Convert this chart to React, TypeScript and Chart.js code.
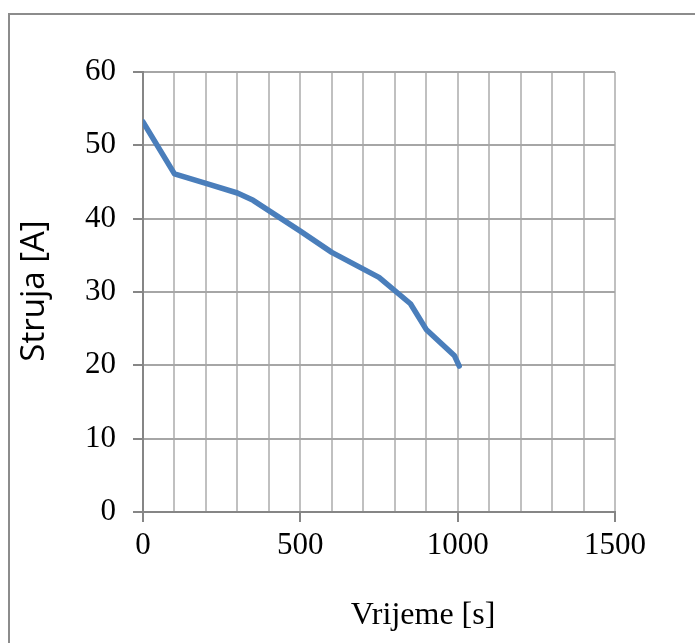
import React, { useEffect, useRef } from "react";
import { Chart, registerables } from "chart.js";

Chart.register(...registerables);

const timeSeconds = [0, 100, 200, 300, 350, 500, 600, 750, 850, 900, 990, 1005];
const currentAmps = [53.2, 46.1, 44.8, 43.5, 42.5, 38.3, 35.4, 32.0, 28.4, 24.9, 21.3, 19.9];
const xTickLabels = [0, 500, 1000, 1500];
const yTickLabels = [0, 10, 20, 30, 40, 50, 60];
const xTitle = "Vrijeme [s]";
const yTitle = "Struja [A]";

const axisTitlesPlugin = {
  id: "axisTitles",
  afterDraw(chart: any) {
    const { ctx, chartArea } = chart;
    ctx.save();
    ctx.fillStyle = "#000000";
    ctx.textAlign = "center";
    ctx.textBaseline = "middle";
    ctx.font = "32px 'Liberation Serif'";
    ctx.fillText(xTitle, (chartArea.left + chartArea.right) / 2 + 44, chartArea.bottom + 104);
    ctx.translate(chartArea.left - 108, (chartArea.top + chartArea.bottom) / 2 - 1);
    ctx.rotate(-Math.PI / 2);
    ctx.font = "33px 'Open Sans'";
    ctx.fillText(yTitle, 0, 0);
    ctx.restore();
  },
};

export default function App() {
  const canvasRef = useRef<HTMLCanvasElement | null>(null);

  useEffect(() => {
    if (!canvasRef.current) return;
    const chart = new Chart(canvasRef.current, {
      type: "line",
      data: {
        datasets: [
          {
            data: timeSeconds.map((t, i) => ({ x: t, y: currentAmps[i] })),
            borderColor: "#4a7ebb",
            backgroundColor: "#4a7ebb",
            borderWidth: 5.5,
            pointRadius: 0,
            borderCapStyle: "round",
            borderJoinStyle: "round",
            tension: 0,
            fill: false,
          },
        ],
      },
      options: {
        animation: false,
        responsive: false,
        maintainAspectRatio: false,
        layout: { padding: { top: 72, right: 80, bottom: 0, left: 0 } },
        plugins: {
          legend: { display: false },
          tooltip: { enabled: false },
          title: { display: false },
        },
        scales: {
          x: {
            type: "linear",
            min: 0,
            max: 1500,
            afterFit(scale: any) {
              scale.height = 131;
            },
            afterBuildTicks(scale: any) {
              const ticks = [];
              for (let v = 0; v <= 1500; v += 100) ticks.push({ value: v });
              scale.ticks = ticks;
            },
            ticks: {
              autoSkip: false,
              maxRotation: 0,
              padding: 5,
              color: "#000000",
              font: { family: "'Liberation Serif'", size: 31 },
              callback: (v: any) => (xTickLabels.includes(Number(v)) ? String(v) : ""),
            },
            grid: {
              color: "#c0c0c0",
              lineWidth: 2,
              tickLength: 10,
              tickColor: (c: any) =>
                xTickLabels.includes(Number(c.tick?.value)) ? "#868686" : "rgba(0,0,0,0)",
            },
            border: { color: "#868686", width: 2 },
          },
          y: {
            type: "linear",
            min: 0,
            max: 60,
            afterFit(scale: any) {
              scale.width = 143;
            },
            afterBuildTicks(scale: any) {
              scale.ticks = yTickLabels.map((v) => ({ value: v }));
            },
            ticks: {
              padding: 17,
              color: "#000000",
              font: { family: "'Liberation Serif'", size: 31 },
            },
            grid: {
              color: "#a6a6a6",
              lineWidth: 2,
              tickLength: 10,
              tickColor: "#868686",
            },
            border: { color: "#868686", width: 2 },
          },
        },
      },
      plugins: [axisTitlesPlugin],
    });
    return () => chart.destroy();
  }, []);

  return (
    <div
      style={{
        position: "fixed",
        left: 0,
        top: 0,
        width: 695,
        height: 643,
        overflow: "hidden",
        background: "#ffffff",
      }}
    >
      <div
        style={{
          position: "absolute",
          left: 8,
          top: 13,
          width: 720,
          height: 680,
          border: "2px solid #8c8c8c",
        }}
      />
      <canvas
        ref={canvasRef}
        width={695}
        height={643}
        style={{ position: "absolute", left: 0, top: 0, width: 695, height: 643 }}
      />
    </div>
  );
}
